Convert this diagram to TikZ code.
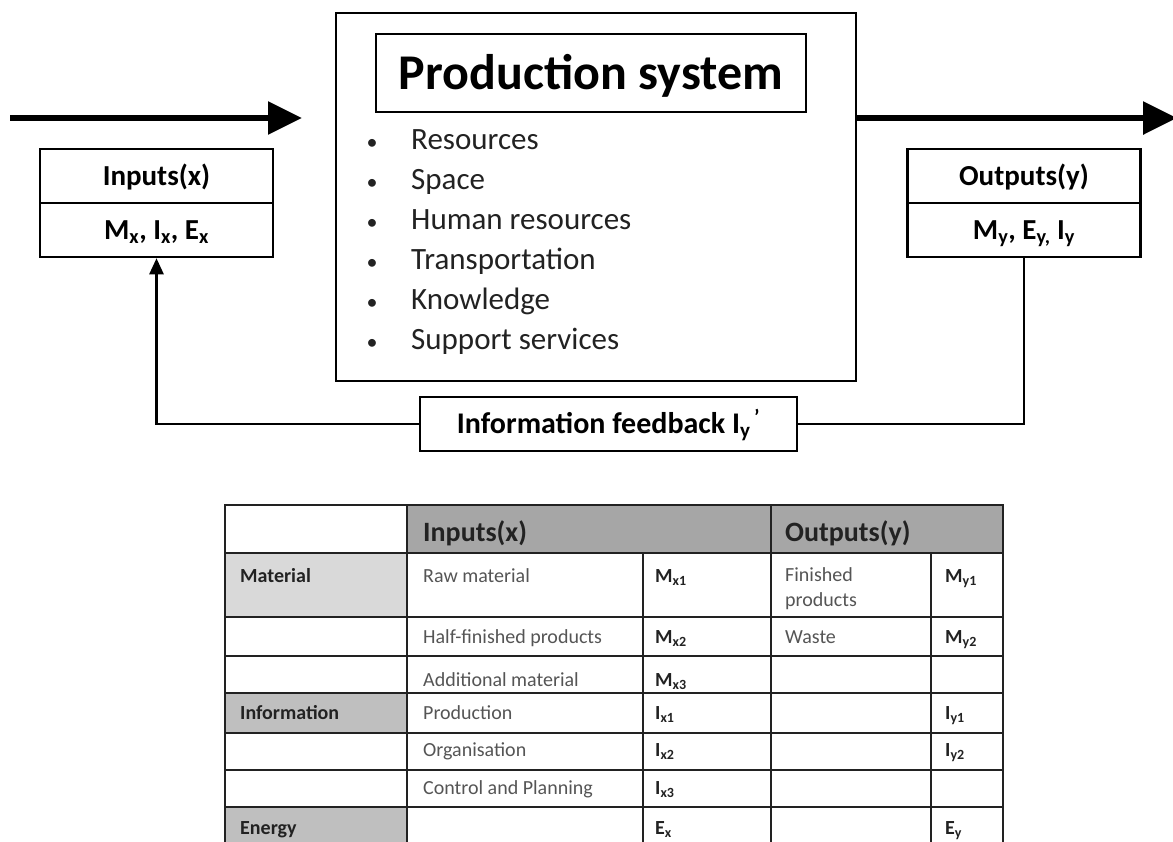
\documentclass[tikz,border=0pt]{standalone}
\usepackage{fontspec}
\setmainfont{Carlito}
\usetikzlibrary{arrows.meta}
\definecolor{hdr}{HTML}{A6A6A6}
\definecolor{matc}{HTML}{D9D9D9}
\definecolor{infc}{HTML}{BFBFBF}
\definecolor{txt}{HTML}{222222}
\definecolor{lt}{HTML}{555555}
\newcommand{\fsz}[1]{\fontsize{#1}{#1}\selectfont}
\begin{document}
\begin{tikzpicture}[x=1pt,y=-1pt,
  box/.style={draw=black, line width=2.5pt, inner sep=0pt},
  bigarrow/.style={line width=6pt, -{Triangle[length=34pt,width=32pt]}},
  fb/.style={line width=2.5pt},
  fbarrow/.style={line width=2.5pt, -{Triangle[length=16pt,width=14pt]}},
  bul/.style={anchor=base west, text=txt, inner sep=0pt, font={\fsz{31}}},
  dot/.style={anchor=base, text=txt, inner sep=0pt, font={\fsz{22}}},
  tline/.style={draw=txt, line width=1.5pt},
  thead/.style={anchor=base west, inner sep=0pt, text=txt, font={\fsz{28}\bfseries}},
  tcat/.style={anchor=base west, inner sep=0pt, text=txt, font={\fsz{20}\bfseries}},
  tbody/.style={anchor=base west, inner sep=0pt, text=lt, font={\fsz{20}}},
  tsym/.style={anchor=base west, inner sep=0pt, text=txt, font={\fsz{20}\bfseries}}
]
\useasboundingbox (0,0) rectangle (1173,841);
\fill[white] (0,0) rectangle (1173,841);

% main production system box
\node[box, minimum width=520pt, minimum height=368pt] (main) at (596,197) {};
\node[box, minimum width=430pt, minimum height=78pt, text height=32pt, text depth=0pt,
      font={\fsz{50}\bfseries}] (title) at (591,73) {Production system};

\foreach \t/\yy [count=\i] in {Resources/149, Space/189, Human resources/229,
    Transportation/269, Knowledge/309, Support services/349}{
  \node[dot] (d\i) at (372,\yy) {\textbullet};
  \node[bul] (b\i) at (411,\yy) {\t};
}

% inputs / outputs boxes
\node[box, minimum width=233pt, minimum height=54pt, text height=19pt, text depth=0pt,
      font={\fsz{29}\bfseries}] (inTop) at (156.5,176) {Inputs(x)};
\node[box, minimum width=233pt, minimum height=54pt, text height=19pt, text depth=0pt,
      font={\fsz{29}\bfseries}] (inBot) at (156.5,230)
      {M\textsubscript{x}, I\textsubscript{x}, E\textsubscript{x}};
\node[box, minimum width=233pt, minimum height=54pt, text height=19pt, text depth=0pt,
      font={\fsz{29}\bfseries}] (outTop) at (1024,176) {Outputs(y)};
\node[box, minimum width=233pt, minimum height=54pt, text height=19pt, text depth=0pt,
      font={\fsz{29}\bfseries}] (outBot) at (1024,230)
      {M\textsubscript{y}, E\textsubscript{y,} I\textsubscript{y}};

% feedback
\node[box, fill=white, minimum width=377pt, minimum height=54pt, text height=19pt, text depth=0pt,
      font={\fsz{30}\bfseries}] (fbox) at (608.5,424)
      {Information feedback I\textsubscript{y}\textsuperscript{\,'}};

\draw[fb] (outBot.south) |- (fbox.east);
\draw[fbarrow] (fbox.west) -| (inBot.south);

% big flow arrows
\coordinate (inStart) at (10,118);
\coordinate (inEnd) at (302,118);
\coordinate (outEnd) at (1177,118);
\draw[bigarrow] (inStart) -- (inEnd);
\draw[bigarrow] (main.east |- inStart) -- (outEnd);

% table
\fill[hdr] (407,505) rectangle (1003,553);
\fill[matc] (225,553) rectangle (407,617);
\fill[infc] (225,693) rectangle (407,733);
\fill[infc] (225,807) rectangle (407,850);
\draw[tline] (225,505) rectangle (1003,850);
\foreach \yy in {553,617,656,693,733,770,807} \draw[tline] (225,\yy) -- (1003,\yy);
\draw[tline] (407,505) -- (407,850);
\draw[tline] (771,505) -- (771,850);
\draw[tline] (643,553) -- (643,850);
\draw[tline] (931,553) -- (931,850);

\node[thead] (hIn) at (423,541) {Inputs(x)};
\node[thead] (hOut) at (785,541) {Outputs(y)};

\node[tcat] (cMat) at (240,582) {Material};
\node[tcat] (cInf) at (240,719) {Information};
\node[tcat] (cEn) at (240,834) {Energy};

\node[tbody] (r1) at (423,582) {Raw material};
\node[tbody] (r2) at (423,643) {Half-finished products};
\node[tbody] (r3) at (423,686) {Additional material};
\node[tbody] (r4) at (423,719) {Production};
\node[tbody] (r5) at (423,756) {Organisation};
\node[tbody] (r6) at (423,794) {Control and Planning};

\node[tsym] (s1) at (655,582) {M\textsubscript{x1}};
\node[tsym] (s2) at (655,643) {M\textsubscript{x2}};
\node[tsym] (s3) at (655,686) {M\textsubscript{x3}};
\node[tsym] (s4) at (655,719) {I\textsubscript{x1}};
\node[tsym] (s5) at (655,756) {I\textsubscript{x2}};
\node[tsym] (s6) at (655,794) {I\textsubscript{x3}};
\node[tsym] (s7) at (655,834) {E\textsubscript{x}};

\node[tbody] (o1a) at (785,581) {Finished};
\node[tbody] (o1b) at (785,606) {products};
\node[tbody] (o2) at (785,643) {Waste};

\node[tsym] (y1) at (945,582) {M\textsubscript{y1}};
\node[tsym] (y2) at (945,643) {M\textsubscript{y2}};
\node[tsym] (y4) at (945,719) {I\textsubscript{y1}};
\node[tsym] (y5) at (945,756) {I\textsubscript{y2}};
\node[tsym] (y7) at (945,834) {E\textsubscript{y}};
\end{tikzpicture}
\end{document}
